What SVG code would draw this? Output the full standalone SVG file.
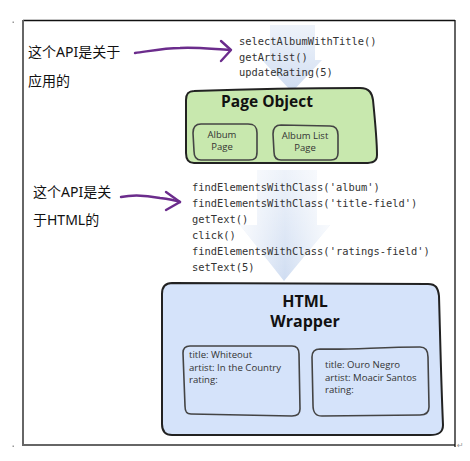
<svg xmlns="http://www.w3.org/2000/svg" width="470" height="461" viewBox="0 0 470 461">
<defs>
<linearGradient id="fade" x1="0" y1="0" x2="0" y2="1">
<stop offset="0" stop-color="#dfe8f6" stop-opacity="0.55"/>
<stop offset="1" stop-color="#c3d4ee" stop-opacity="0.8"/>
</linearGradient>
<linearGradient id="fadeh" x1="0" y1="0" x2="1" y2="0">
<stop offset="0" stop-color="#ffffff" stop-opacity="0.8"/>
<stop offset="0.5" stop-color="#ffffff" stop-opacity="0"/>
<stop offset="1" stop-color="#ffffff" stop-opacity="0.8"/>
</linearGradient>
<style>
.code{font-family:"DejaVu Sans Mono","Liberation Mono",monospace;font-size:10.4px;fill:#333}
.cn{font-family:"Noto Sans","Noto Sans CJK SC",sans-serif;font-size:14px;fill:#111}
.title{font-family:"Open Sans","Noto Sans",sans-serif;font-weight:bold;fill:#111;text-anchor:middle}
.small{font-family:"Open Sans","Noto Sans",sans-serif;font-size:9.6px;fill:#333}
.smallc{font-family:"Open Sans","Noto Sans",sans-serif;font-size:9.5px;fill:#333;text-anchor:middle}
.box{stroke:#222;stroke-width:2;stroke-linejoin:round}
.inner{fill:none;stroke:#444;stroke-width:1.6;stroke-linejoin:round}
.purple{fill:none;stroke:#6b2c8c;stroke-width:2.4;stroke-linecap:round;stroke-linejoin:round}
</style>
</defs>
<rect width="470" height="461" fill="#ffffff"/>
<!-- frame -->
<g id="frame">
<line x1="23" y1="20.5" x2="455" y2="20.5" stroke="#111" stroke-width="1.3"/>
<line x1="23" y1="20" x2="23" y2="445" stroke="#666" stroke-width="2"/>
<line x1="22" y1="445" x2="455" y2="445" stroke="#666" stroke-width="2"/>
<line x1="455" y1="20" x2="455" y2="447" stroke="#111" stroke-width="1.3"/>
<rect x="12.5" y="21.5" width="1.5" height="1.5" fill="#999"/>
<rect x="12.5" y="445.5" width="1.5" height="1.5" fill="#999"/>
<text x="457" y="448" font-family="DejaVu Sans,sans-serif" font-size="8" fill="#999">↵</text>
</g>
<!-- flow arrows -->
<g id="flow-arrows">
<path d="M270 25 H315 V60 L322 60 L292 92 L262 60 L270 60 Z" fill="url(#fade)"/>
<path d="M257 170 H317 V225 L330 225 L284 281 L240 225 L257 225 Z" fill="url(#fade)"/>
<path d="M257 170 H317 V225 L330 225 L284 281 L240 225 L257 225 Z" fill="url(#fadeh)"/>
</g>
<!-- connectors -->
<g id="connectors">
<path class="purple" d="M135 53 C150 51 165 48 180 48 C195 47 212 49 230 50"/>
<path class="purple" d="M221 41 L231 50 L221 61"/>
<path class="purple" d="M121 197 C135 194 150 196 160 198 C168 199 174 200 180 202"/>
<path class="purple" d="M166 192 L180 202 L166 210"/>
</g>
<!-- labels -->
<g id="label-app">
<text class="cn" x="28" y="57">这个API是关于</text>
<text class="cn" x="28" y="86">应用的</text>
</g>
<g id="label-html">
<text class="cn" x="33" y="197">这个API是关</text>
<text class="cn" x="33" y="225">于HTML的</text>
</g>
<g id="code-app">
<text class="code" x="239" y="45">selectAlbumWithTitle()</text>
<text class="code" x="239" y="61">getArtist()</text>
<text class="code" x="239" y="76">updateRating(5)</text>
</g>
<g id="code-html">
<text class="code" x="192" y="191">findElementsWithClass('album')</text>
<text class="code" x="192" y="207">findElementsWithClass('title-field')</text>
<text class="code" x="192" y="223">getText()</text>
<text class="code" x="192" y="239">click()</text>
<text class="code" x="192" y="255">findElementsWithClass('ratings-field')</text>
<text class="code" x="192" y="271">setText(5)</text>
</g>
<!-- Page Object -->
<g id="page-object">
<path class="box" fill="#c8e8ae" d="M194 91 C250 89 310 88 360 88 C370 88 372 94 373 100 C375 120 377 140 377 155 C377 162 372 163 365 163 L194 163 C188 163 186 159 186 153 L186 100 C186 94 188 91 194 91 Z"/>
<text class="title" x="267" y="107" font-size="15.5">Page Object</text>
</g>
<g id="album-page">
<path class="inner" d="M201 124 L248 124 C255 124 257 127 257 133 L257 152 C257 158 255 160 249 160 L201 160 C196 160 194 157 194 151 L193 133 C193 127 196 124 201 124 Z"/>
<text class="smallc" x="222" y="138">Album</text>
<text class="smallc" x="222" y="150">Page</text>
</g>
<g id="album-list-page">
<path class="inner" d="M281 125 L330 126 C336 126 338 129 338 135 L338 153 C338 158 336 160 331 160 L281 160 C276 160 274 157 274 152 L273 134 C273 128 276 125 281 125 Z"/>
<text class="smallc" x="305" y="139">Album List</text>
<text class="smallc" x="305" y="151">Page</text>
</g>
<!-- HTML Wrapper -->
<g id="html-wrapper">
<path class="box" fill="#d5e3fa" d="M172 283 L428 284 C436 284 438 288 439 296 C440 330 441 380 443 425 C443 433 438 435 430 435 L172 435 C165 435 162 431 162 424 L162 294 C162 287 165 283 172 283 Z"/>
<text class="title" x="305" y="307" font-size="16">HTML</text>
<text class="title" x="305" y="327" font-size="16">Wrapper</text>
</g>
<g id="album-whiteout">
<path class="inner" d="M190 346 L292 346 C297 346 299 349 299 354 L300 409 C300 414 297 416 292 416 L191 414 C186 414 185 411 185 406 L183 353 C183 348 185 346 190 346 Z"/>
<text class="small" x="189" y="358">title: Whiteout</text>
<text class="small" x="189" y="371">artist: In the Country</text>
<text class="small" x="189" y="383">rating:</text>
</g>
<g id="album-ouro-negro">
<path class="inner" d="M320 349 C350 350 380 347 420 347 C426 347 428 351 428 357 L429 407 C429 413 425 415 420 415 L322 416 C315 416 313 412 313 405 L312 357 C312 351 315 349 320 349 Z"/>
<text class="small" x="325" y="368">title: Ouro Negro</text>
<text class="small" x="325" y="381">artist: Moacir Santos</text>
<text class="small" x="325" y="393">rating:</text>
</g>
</svg>
